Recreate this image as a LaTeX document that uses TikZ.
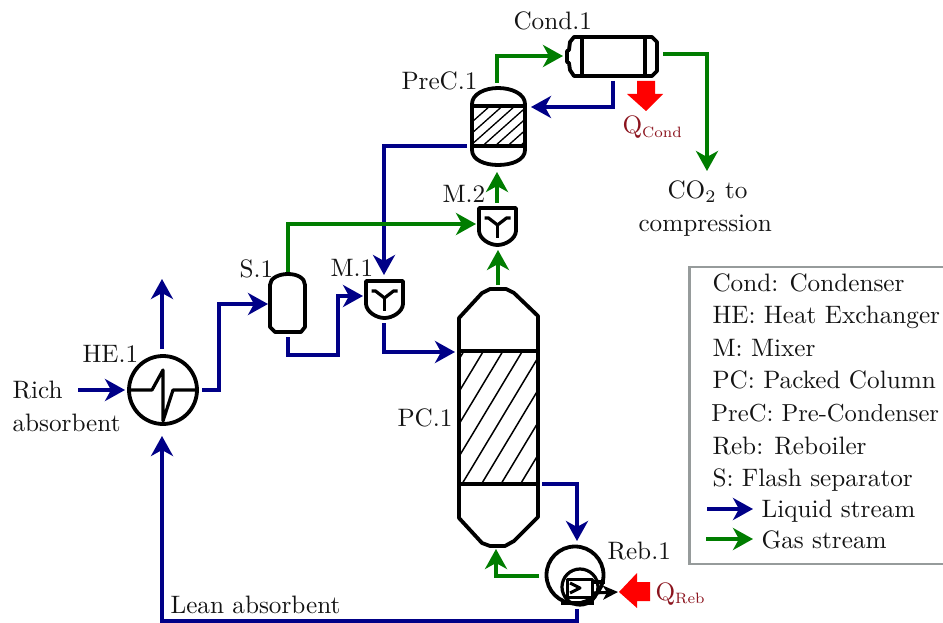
\documentclass[tikz,border=0pt]{standalone}
\usetikzlibrary{arrows.meta}
\definecolor{liq}{RGB}{0,0,135}
\definecolor{gas}{RGB}{0,125,0}
\definecolor{qred}{RGB}{140,20,30}
\definecolor{heat}{RGB}{255,0,0}
\definecolor{frame}{RGB}{150,155,155}
\tikzset{
  lab/.style={scale=2.52,inner sep=0pt,anchor=base west,text=black!92},
  qlab/.style={lab,text=qred},
  equip/.style={draw=black,line width=3.8pt,line join=round,fill=white},
  inner/.style={draw=black,line width=3.2pt,line join=round},
  hatchline/.style={draw=black,line width=1.5pt},
  tip/.style={-{Stealth[length=20pt,width=22pt,inset=6pt]}},
  liquid/.style={draw=liq,line width=3.8pt,tip,line join=miter},
  gasline/.style={draw=gas,line width=3.8pt,tip,line join=miter},
  heatblock/.style={fill=heat,draw=none},
}
\newcommand{\qsub}[1]{\scalebox{0.85}{$\scriptstyle\mathrm{#1}$}}
\begin{document}
\begin{tikzpicture}[x=1pt,y=-1pt]
\useasboundingbox (0,0) rectangle (943,623);
\clip (0,0) rectangle (943,623);
\fill[white] (0,0) rectangle (943,623);

% Packed column
\draw[equip] (459,318) -- (482,293) -- (490,289) -- (506,289) -- (514,293) -- (538,316) -- (538,517) -- (514,541) -- (505,546) -- (490,546) -- (482,543) -- (459,518) -- cycle;
\begin{scope}
\clip (459,351) rectangle (538,484);
\foreach \k in {-5,...,3} {
  \draw[hatchline] ({462+\k*19.5},484) -- ({462+\k*19.5+80},351);
}
\end{scope}
\draw[inner] (459,351) -- (538,351);
\draw[inner] (459,484) -- (538,484);
\node[inner sep=0pt,minimum width=79pt,minimum height=257pt] (pc) at (498.5,418.5) {};

% Pre-condenser
\draw[equip] (472,104) .. controls (472,94) and (485,88) .. (498,88) .. controls (512,88) and (525,94) .. (525,104) -- (525,150) .. controls (525,160) and (512,165) .. (498,165) .. controls (485,165) and (472,160) .. (472,150) -- cycle;
\begin{scope}
\clip (472,106) rectangle (525,146);
\foreach \k in {0,...,7} {
  \draw[hatchline,line width=1.3pt] ({445+\k*12.5},146) -- ({445+\k*12.5+45},106);
}
\end{scope}
\draw[inner] (472,106) -- (525,106);
\draw[inner] (472,146) -- (525,146);
\node[inner sep=0pt,minimum width=53pt,minimum height=77pt] (prec) at (498.5,126.5) {};

% Condenser
\draw[equip] (574,37) -- (652,37) -- (657,42) -- (657,71) -- (652,76) -- (574,76) -- (570,70) -- (569,63) -- (567,62) -- (567,51) -- (569,50) -- (570,42) -- cycle;
\draw[inner] (582,37) -- (582,76);
\draw[inner] (645,37) -- (645,76);
\node[inner sep=0pt,minimum width=90pt,minimum height=39pt] (cond) at (612,56.5) {};

% Mixers
\foreach \n/\cx/\cy in {mone/384.5/280,mtwo/497.5/207} {
  \draw[equip] (\cx-18.5,\cy+1) -- (\cx+18.5,\cy+1) -- (\cx+18.5,\cy+24) .. controls (\cx+18,\cy+32) and (\cx+8,\cy+38) .. (\cx,\cy+38) .. controls (\cx-8,\cy+38) and (\cx-18,\cy+32) .. (\cx-18.5,\cy+24) -- cycle;
  \draw[inner] (\cx-13,\cy+11) -- (\cx-9,\cy+11) -- (\cx,\cy+18) -- (\cx+9,\cy+11) -- (\cx+13,\cy+11);
  \draw[inner] (\cx,\cy+18) -- (\cx,\cy+31);
  \node[inner sep=0pt,minimum width=37pt,minimum height=38pt] (\n) at (\cx,\cy+19) {};
}

% Separator
\draw[equip] (270,285) .. controls (270,278) and (279,274) .. (288,274) .. controls (297,274) and (305,278) .. (305,285) -- (305,327) -- (301,332) -- (275,332) -- (270,327) -- cycle;
\node[inner sep=0pt,minimum width=35pt,minimum height=59pt] (sep) at (287.5,303.5) {};

% Heat exchanger
\node[equip,circle,inner sep=0pt,minimum size=68pt] (he) at (163,390) {};
\draw[inner] (he.west) -- (152,390) -- (163,370) -- (163,421) -- (173,390) -- (he.east);

% Reboiler
\node[equip,circle,inner sep=0pt,minimum size=57pt] (reb) at (575,575) {};
\node[inner,circle,inner sep=0pt,minimum size=36pt] (rebin) at (580,587) {};
\draw[inner,line width=3pt] (567,579) rectangle (592,597);
\draw[inner,line width=3pt] (570,583) -- (580,588) -- (570,593);
\draw[inner] (592,582) -- (reb.east |- 0,582);
\draw[inner,line width=4pt] (561,603) -- (594,603);
\coordinate (rebout) at (618,592);
\draw[draw=black,line width=3pt,-{Stealth[length=15pt,width=14pt,inset=4pt]}] (593,593) -- (rebout);

% Ports
\coordinate (richin) at (78,390);
\coordinate (lean) at (162,621);
\coordinate (leanR) at (577,621);

% Liquid streams
\draw[liquid] (richin) -- (125,390);
\draw[liquid] (162,349) -- (162,279);
\draw[liquid] (577,609) -- (leanR) -- (lean) -- (162,436);
\draw[liquid] (202,390) -- (219,390) -- (219,304) -- (268,304);
\draw[liquid] (288,337) -- (288,355) -- (338,355) -- (338,296) -- (363,296);
\draw[liquid] (384,323) -- (384,352) -- (455,352);
\draw[liquid] (467,146) -- (384,146) -- (384,275);
\draw[liquid] (613,81) -- (613,107) -- (531,107);
\draw[liquid] (542,484) -- (577,484) -- (577,541);

% Gas streams
\draw[gasline] (288,272) -- (288,224) -- (476,224);
\draw[gasline] (497,203) -- (497,172);
\draw[gasline] (498,285) -- (498,250);
\draw[gasline] (497,83) -- (497,56) -- (563,56);
\draw[gasline] (663,54) -- (707,54) -- (707,171);
\draw[gasline] (539,576) -- (496,576) -- (496,549);

% Heat arrows
\fill[heatblock] (637,81) -- (655,81) -- (655,94) -- (663,94) -- (646,111) -- (627,94) -- (637,94) -- cycle;
\fill[heatblock] (650,582) -- (637,582) -- (637,573) -- (619,592) -- (637,608) -- (637,601) -- (650,601) -- cycle;

% Labels
\node[lab] (tcond) at (513,30) {Cond.1};
\node[lab] (tprec) at (401,90) {PreC.1};
\node[lab] (tmtwo) at (442,202) {M.2};
\node[lab] (tmone) at (330,276) {M.1};
\node[lab] (tsep) at (239,277) {S.1};
\node[lab] (the) at (82,362) {HE.1};
\node[lab] (trich) at (12,398) {Rich};
\node[lab] (tabs) at (12,431) {absorbent};
\node[lab] (tpc) at (397,426) {PC.1};
\node[lab] (treb) at (607,559) {Reb.1};
\node[lab] (tlean) at (170,613) {Lean absorbent};
\node[qlab] (qcond) at (622,134) {$\mathrm{Q}_{\qsub{Cond}}$};
\node[qlab] (qreb) at (655,600) {$\mathrm{Q}_{\qsub{Reb}}$};
\node[lab] (tco) at (667,199) {CO$_2$ to};
\node[lab] (tcomp) at (638,231) {compression};

% Legend
\draw[frame,line width=2.4pt] (689.5,267) rectangle (960,564);
\node[lab] (l1) at (712,291) {Cond: Condenser};
\node[lab] (l2) at (712,323) {HE: Heat Exchanger};
\node[lab] (l3) at (712,356) {M: Mixer};
\node[lab] (l4) at (712,388) {PC: Packed Column};
\node[lab,scale=0.975] (l5) at (711,421) {PreC: Pre-Condenser};
\node[lab] (l6) at (712,454) {Reb: Reboiler};
\node[lab] (l7) at (712,486) {S: Flash separator};
\node[lab] (l8) at (761,517) {Liquid stream};
\node[lab] (l9) at (761,548) {Gas stream};
\coordinate (la) at (707,509);
\coordinate (lg) at (706,539);
\draw[liquid] (la) -- (753,509);
\draw[gasline] (lg) -- (753,539);
\end{tikzpicture}
\end{document}
